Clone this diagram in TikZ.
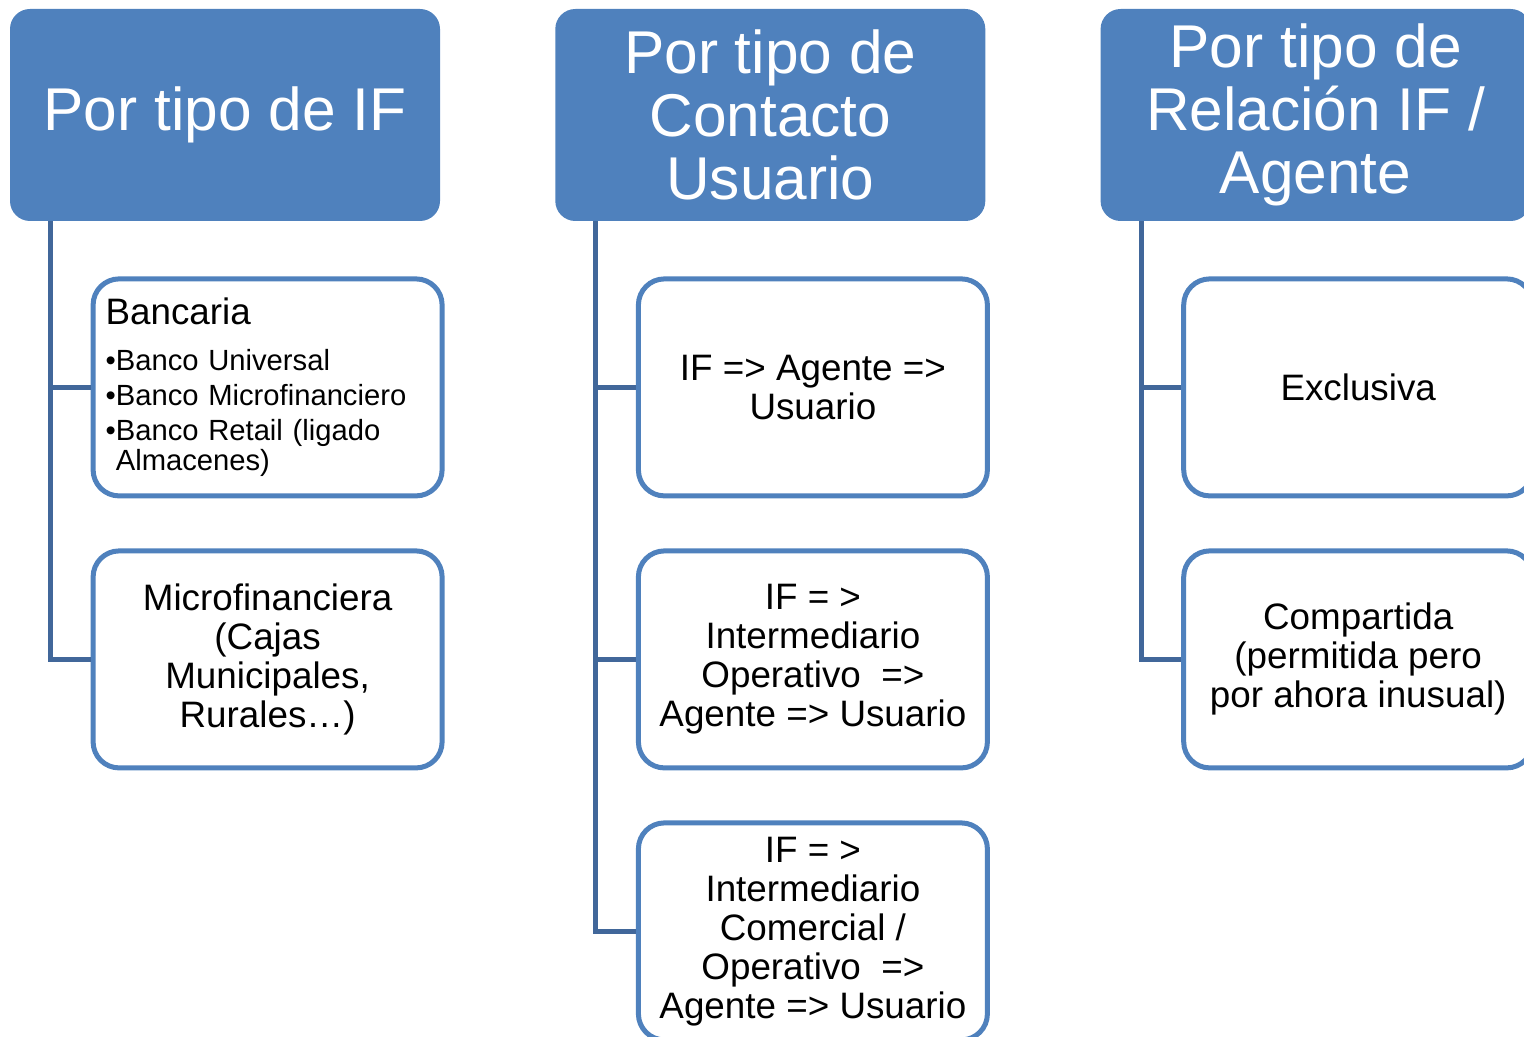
\documentclass[tikz,border=0pt]{standalone}
\usepackage{fontspec}
\setmainfont{Liberation Sans}
\usetikzlibrary{positioning}
\definecolor{hdrblue}{HTML}{4F81BD}
\definecolor{trunkblue}{HTML}{41679A}

\begin{document}
\begin{tikzpicture}[
	% Default distance between the boxes.
	node distance=25pt and 57.25pt
	]
	% Styles for the headers, the leaf boxes and the trunk lines.
	\tikzset{
		header/.style={fill=hdrblue, rounded corners=10pt, minimum width=215pt, minimum height=106pt, align=center, text=white, inner sep=2pt, font=\fontsize{30.2}{31.5}\selectfont},
		leaf/.style={draw=hdrblue, line width=2.5pt, fill=white, rounded corners=13pt, minimum width=174.5pt, minimum height=108.5pt, align=center, inner sep=3pt, font=\fontsize{18.4}{19.5}\selectfont},
		trunk/.style={draw=trunkblue, line width=2.5pt}
	}
	\useasboundingbox (0,0) rectangle (762pt,-518.5pt);
	\clip (0,0) rectangle (762pt,-518.5pt);
	
	% === HEADERS ===
	\node[header] (ifType) at (112.5pt,-57.5pt) {Por tipo de IF};
	\node[header, right=of ifType] (contact) {Por tipo de\\Contacto\\Usuario};
	\node[header, right=of contact] (relation) {Por tipo de\\Relación IF /\\Agente};
	
	% === LEAF BOXES ===
	\node[leaf, anchor=north west, align=left, text width=162pt, inner xsep=6.25pt, font=\fontsize{14.6}{15}\selectfont] (bank) at ([xshift=40.5pt, yshift=-27.5pt]ifType.south west)
		{{\fontsize{18.4}{19.5}\selectfont Bancaria}\\[8pt]
		 •Banco Universal\\[2.5pt]
		 •Banco Microfinanciero\\[2.5pt]
		 •Banco Retail (ligado\\
		 \phantom{•}Almacenes)\\[-12pt]\mbox{}};
	\node[leaf, below=of bank] (micro) {Microfinanciera\\(Cajas\\Municipales,\\Rurales…)};
	
	\node[leaf, anchor=north west] (direct) at ([xshift=40.5pt, yshift=-27.5pt]contact.south west) {IF => Agente =>\\Usuario};
	\node[leaf, below=of direct] (operative) {IF = >\\Intermediario\\Operativo\ \ =>\\Agente => Usuario};
	\node[leaf, below=of operative] (commercial) {IF = >\\Intermediario\\Comercial /\\Operativo\ \ =>\\Agente => Usuario};
	
	\node[leaf, anchor=north west] (exclusive) at ([xshift=40.5pt, yshift=-27.5pt]relation.south west) {Exclusiva};
	\node[leaf, below=of exclusive] (shared) {Compartida\\(permitida pero\\por ahora inusual)};
	
	% === TRUNK LINES ===
	\draw[trunk] ([xshift=20.5pt]ifType.south west) |- (bank.west);
	\draw[trunk] ([xshift=20.5pt]ifType.south west) |- (micro.west);
	\draw[trunk] ([xshift=20.5pt]contact.south west) |- (direct.west);
	\draw[trunk] ([xshift=20.5pt]contact.south west) |- (operative.west);
	\draw[trunk] ([xshift=20.5pt]contact.south west) |- (commercial.west);
	\draw[trunk] ([xshift=20.5pt]relation.south west) |- (exclusive.west);
	\draw[trunk] ([xshift=20.5pt]relation.south west) |- (shared.west);
\end{tikzpicture}
\end{document}
